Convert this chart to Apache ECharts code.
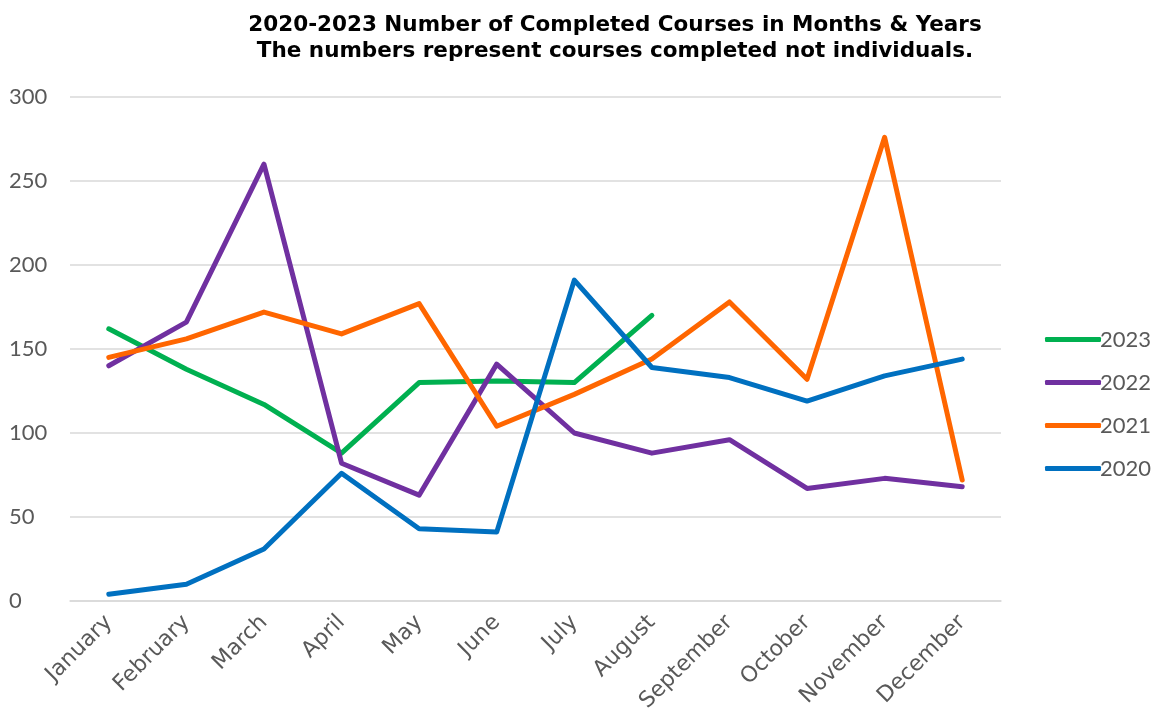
<!DOCTYPE html>
<html>
<head>
<meta charset="utf-8">
<script src="https://cdn.jsdelivr.net/npm/echarts@6/dist/echarts.min.js"></script>
<style>
html,body{margin:0;padding:0;background:#fff;}
#chart{width:1157px;height:721px;}
</style>
</head>
<body>
<div id="chart"></div>
<script>
var months = ['January','February','March','April','May','June','July','August','September','October','November','December'];
var s2023 = [162, 138, 117, 88, 130, 131, 130, 170, null, null, null, null];
var s2022 = [140, 166, 260, 82, 63, 141, 100, 88, 96, 67, 73, 68];
var s2021 = [145, 156, 172, 159, 177, 104, 123, 144, 178, 132, 276, 72];
var s2020 = [4, 10, 31, 76, 43, 41, 191, 139, 133, 119, 134, 144];
var titleText = '2020-2023 Number of Completed Courses in Months & Years\nThe numbers represent courses completed not individuals.';

var FONT = 'Lato';
var chart = echarts.init(document.getElementById('chart'));
function mk(name, data, color) {
  return {
    name: name, type: 'line', data: data, showSymbol: false, symbol: 'none',
    lineStyle: {width: 5, color: color, cap: 'round', join: 'round'},
    itemStyle: {color: color}, connectNulls: false, animation: false
  };
}
chart.setOption({
  animation: false,
  title: {
    text: titleText, left: 610, top: 7, textAlign: 'center',
    textStyle: {fontFamily: 'DejaVu Sans', fontWeight: 'bold', fontSize: 21.5, color: '#000', lineHeight: 26}
  },
  legend: {
    orient: 'vertical', left: 1040, top: 323,
    data: ['2023','2022','2021','2020'],
    itemWidth: 56, itemHeight: 5, icon: 'roundRect', itemGap: 20,
    textStyle: {fontFamily: FONT, fontSize: 22, color: '#595959', padding: [0,0,0,-6], lineHeight: 23}
  },
  grid: {left: 70, right: 156, top: 97, bottom: 120, containLabel: false},
  xAxis: {
    type: 'category', data: months, boundaryGap: true,
    axisLine: {show: true, lineStyle: {color: '#D9D9D9', width: 1.5}},
    axisTick: {show: false},
    axisLabel: {rotate: 45, fontFamily: 'DejaVu Sans', fontSize: 22, color: '#595959', margin: 18, interval: 0}
  },
  yAxis: {
    type: 'value', min: 0, max: 300, interval: 50,
    axisLine: {show: false}, axisTick: {show: false},
    splitLine: {lineStyle: {color: '#D9D9D9', width: 1.5}},
    axisLabel: {fontFamily: FONT, fontSize: 22, color: '#595959', align: 'left', margin: 61}
  },
  series: [
    mk('2023', s2023, '#00B050'),
    mk('2022', s2022, '#7030A0'),
    mk('2021', s2021, '#FF6600'),
    mk('2020', s2020, '#0070C0')
  ]
});
</script>
</body>
</html>
